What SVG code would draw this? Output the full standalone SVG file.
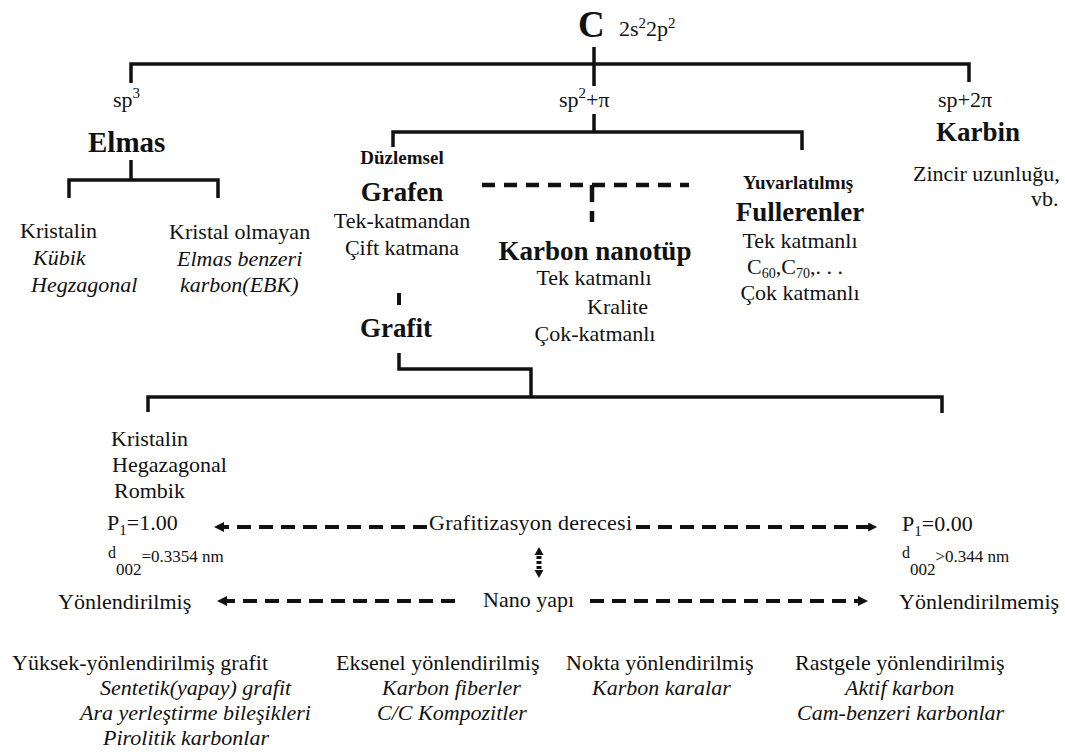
<svg xmlns="http://www.w3.org/2000/svg" width="1065" height="753" viewBox="0 0 1065 753" font-family="Liberation Serif, Times New Roman, DejaVu Serif, serif">
<style>
text{font-family:Liberation Serif,Times New Roman,DejaVu Serif,serif;fill:#111;font-size:22px}
.b{font-weight:bold}
.i{font-style:italic}
.c{text-anchor:middle}
.t{font-size:27px;font-weight:bold}
.s{font-size:19px;font-weight:bold}
.ln{fill:none;stroke:#111;stroke-width:3.5;stroke-linecap:butt;stroke-linejoin:miter}
.dl{fill:none;stroke:#111;stroke-width:4.5;stroke-dasharray:13 9}
.da{fill:none;stroke:#111;stroke-width:4;stroke-dasharray:14 8}
.hd{fill:#111}
</style>
<defs>
<marker id="ah" viewBox="0 0 10 10" refX="2" refY="5" markerWidth="13" markerHeight="10" markerUnits="userSpaceOnUse" orient="auto">
<path d="M0,0 L10,5 L0,10 Z" fill="#111"/>
</marker>
<marker id="ahs" viewBox="0 0 10 10" refX="2" refY="5" markerWidth="10" markerHeight="9" markerUnits="userSpaceOnUse" orient="auto">
<path d="M0,0 L10,5 L0,10 Z" fill="#111"/>
</marker>
</defs>

<g id="connectors">
<path class="ln" d="M594,47 V86"/>
<path class="ln" d="M131,83 V64 H969 V82"/>
<path class="ln" d="M594,114 V133"/>
<path class="ln" d="M393,147 V132 H802 V150"/>
<path class="ln" d="M131,160 V180"/>
<path class="ln" d="M69,198 V180 H218 V198"/>
<path class="dl" d="M482,185 H689"/>
<path class="ln" d="M592,185 V202" style="stroke-width:4.5"/>
<path class="ln" d="M592,211 V222" style="stroke-width:4.5"/>
<path class="ln" d="M399,293 V305" style="stroke-width:4"/>
<path class="ln" d="M399,353 V369 H531 V397"/>
<path class="ln" d="M148,412 V397 H942 V413"/>
<line class="da" x1="427" y1="527" x2="222" y2="527" marker-end="url(#ah)"/>
<line class="da" x1="636" y1="527" x2="870" y2="527" marker-end="url(#ahs)"/>
<line class="da" x1="455" y1="601" x2="225" y2="601" marker-end="url(#ah)"/>
<line class="da" x1="590" y1="601" x2="860" y2="601" marker-end="url(#ah)"/>
<path class="hd" d="M539,547 L543.5,555 L534.5,555 Z"/>
<line x1="539" y1="556" x2="539" y2="569" stroke="#111" stroke-width="5" stroke-dasharray="3 2"/>
<path class="hd" d="M539,578 L543.5,570 L534.5,570 Z"/>
</g>

<g id="root">
<text x="578" y="37" class="b" style="font-size:37px">C</text>
<text x="619" y="36">2s<tspan font-size="15" dy="-8">2</tspan><tspan dy="8">2p</tspan><tspan font-size="15" dy="-8">2</tspan></text>
</g>

<g id="sp3">
<text x="113" y="107">sp<tspan font-size="15" dy="-9">3</tspan></text>
</g>
<g id="sp2">
<text x="559" y="107">sp<tspan font-size="15" dy="-9">2</tspan><tspan dy="9">+π</tspan></text>
</g>
<g id="sp">
<text x="938" y="107">sp+2π</text>
</g>

<g id="elmas">
<text x="88" y="152" class="b" style="font-size:29px">Elmas</text>
</g>
<g id="kristalin-elmas">
<text x="20" y="238">Kristalin</text>
<text x="33" y="265" class="i">Kübik</text>
<text x="31" y="292" class="i">Hegzagonal</text>
</g>
<g id="amorf-elmas">
<text x="169" y="239">Kristal olmayan</text>
<text x="177" y="266" class="i">Elmas benzeri</text>
<text x="180" y="292" class="i">karbon(EBK)</text>
</g>

<g id="grafen">
<text x="402" y="164" class="s c">Düzlemsel</text>
<text x="402" y="201" class="t c">Grafen</text>
<text x="402" y="228" class="c">Tek-katmandan</text>
<text x="402" y="255" class="c">Çift katmana</text>
</g>

<g id="nanotup">
<text x="595" y="260" class="t c">Karbon nanotüp</text>
<text x="594" y="285" class="c">Tek katmanlı</text>
<text x="587" y="314">Kralite</text>
<text x="595" y="341" class="c">Çok-katmanlı</text>
</g>

<g id="fulleren">
<text x="798" y="189" class="s c">Yuvarlatılmış</text>
<text x="800" y="221" class="t c">Fullerenler</text>
<text x="800" y="248" class="c">Tek katmanlı</text>
<text x="795" y="274" class="c">C<tspan font-size="14" dy="4">60</tspan><tspan dy="-4">,C</tspan><tspan font-size="14" dy="4">70</tspan><tspan dy="-4">,. . .</tspan></text>
<text x="800" y="300" class="c">Çok katmanlı</text>
</g>

<g id="karbin">
<text x="978" y="141" class="t c">Karbin</text>
<text x="913" y="181">Zincir uzunluğu,</text>
<text x="1031" y="206">vb.</text>
</g>

<g id="grafit">
<text x="360" y="337" class="t">Grafit</text>
</g>

<g id="kristalin-grafit">
<text x="111" y="446">Kristalin</text>
<text x="112" y="472">Hegazagonal</text>
<text x="114" y="498">Rombik</text>
<text x="107" y="530">P<tspan font-size="15" dy="5">1</tspan><tspan dy="-5">=1.00</tspan></text>
<text x="108" y="558" style="font-size:16px">d<tspan font-size="17" y="575">002</tspan><tspan font-size="17" y="562">=0.3354 nm</tspan></text>
<text x="58" y="609">Yönlendirilmiş</text>
</g>

<g id="grafitizasyon">
<text x="429" y="530" textLength="203">Grafitizasyon  derecesi</text>
</g>
<g id="nanoyapi">
<text x="483" y="607">Nano yapı</text>
</g>

<g id="amorf-grafit">
<text x="902" y="531">P<tspan font-size="15" dy="5">1</tspan><tspan dy="-5">=0.00</tspan></text>
<text x="902" y="558" style="font-size:16px">d<tspan font-size="17" y="575">002</tspan><tspan font-size="17" y="562">&gt;0.344 nm</tspan></text>
<text x="899" y="609">Yönlendirilmemiş</text>
</g>

<g id="yuksek">
<text x="12" y="670">Yüksek-yönlendirilmiş grafit</text>
<text x="100" y="695" class="i">Sentetik(yapay) grafit</text>
<text x="80" y="720" class="i">Ara yerleştirme bileşikleri</text>
<text x="103" y="745" class="i">Pirolitik karbonlar</text>
</g>
<g id="eksenel">
<text x="336" y="670">Eksenel yönlendirilmiş</text>
<text x="382" y="695" class="i">Karbon fiberler</text>
<text x="377" y="720" class="i">C/C Kompozitler</text>
</g>
<g id="nokta">
<text x="566" y="670">Nokta yönlendirilmiş</text>
<text x="592" y="695" class="i">Karbon karalar</text>
</g>
<g id="rastgele">
<text x="795" y="670">Rastgele yönlendirilmiş</text>
<text x="845" y="695" class="i">Aktif karbon</text>
<text x="797" y="720" class="i">Cam-benzeri karbonlar</text>
</g>
</svg>
